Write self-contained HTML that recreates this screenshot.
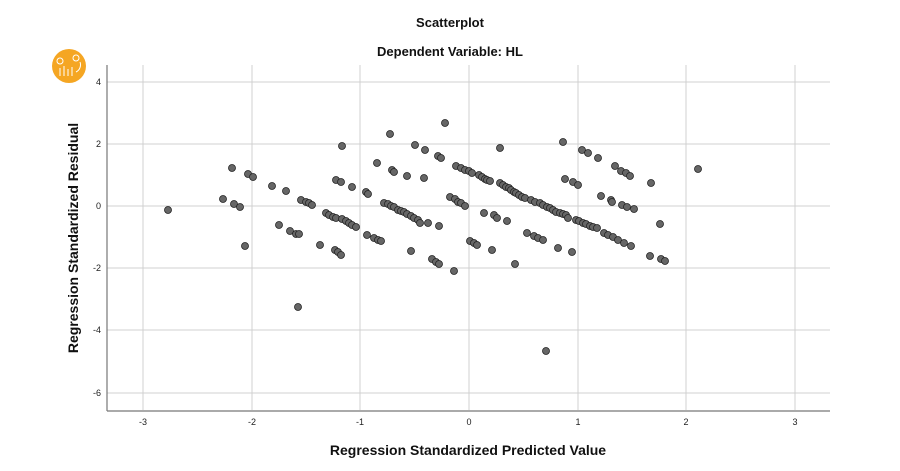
<!DOCTYPE html>
<html><head><style>body{margin:0;background:#fff}svg{display:block}</style></head><body>
<svg width="900" height="471" xmlns="http://www.w3.org/2000/svg" font-family="Liberation Sans, Arial, sans-serif">
<rect width="900" height="471" fill="#fff"/>
<text x="450" y="27" text-anchor="middle" font-size="13" font-weight="bold" fill="#111">Scatterplot</text>
<text x="450" y="56" text-anchor="middle" font-size="13" font-weight="bold" fill="#111">Dependent Variable: HL</text>
<circle cx="69" cy="66" r="17" fill="#f5a623"/>
<g stroke="#fff" stroke-width="1" fill="none"><path d="M60 76v-8M64 76v-10M68 76v-7M72 76v-9M76 72a8 8 0 0 0 4-10"/><circle cx="60" cy="61" r="3"/><circle cx="76" cy="58" r="3"/></g>
<g stroke="#d0d0d0" stroke-width="1">
<line x1="143" y1="65" x2="143" y2="410"/><line x1="252" y1="65" x2="252" y2="410"/><line x1="360" y1="65" x2="360" y2="410"/><line x1="469" y1="65" x2="469" y2="410"/><line x1="578" y1="65" x2="578" y2="410"/><line x1="686" y1="65" x2="686" y2="410"/><line x1="795" y1="65" x2="795" y2="410"/>
<line x1="107" y1="82" x2="830" y2="82"/><line x1="107" y1="144" x2="830" y2="144"/><line x1="107" y1="206" x2="830" y2="206"/><line x1="107" y1="268" x2="830" y2="268"/><line x1="107" y1="330" x2="830" y2="330"/><line x1="107" y1="393" x2="830" y2="393"/>
</g>
<g stroke="#777" stroke-width="1.2"><line x1="107" y1="65" x2="107" y2="411"/><line x1="107" y1="411" x2="830" y2="411"/></g>
<g font-size="9" fill="#222" text-anchor="end">
<text x="101" y="85">4</text><text x="101" y="147">2</text><text x="101" y="209">0</text><text x="101" y="271">-2</text><text x="101" y="333">-4</text><text x="101" y="396">-6</text></g>
<g font-size="9" fill="#222" text-anchor="middle">
<text x="143" y="425">-3</text><text x="252" y="425">-2</text><text x="360" y="425">-1</text><text x="469" y="425">0</text><text x="578" y="425">1</text><text x="686" y="425">2</text><text x="795" y="425">3</text></g>
<text x="468" y="455" text-anchor="middle" font-size="14" font-weight="bold" fill="#111">Regression Standardized Predicted Value</text>
<text transform="translate(78,238) rotate(-90)" text-anchor="middle" font-size="14" font-weight="bold" fill="#111">Regression Standardized Residual</text>
<g fill="#666" stroke="#222" stroke-width="0.8">
<circle cx="168" cy="210" r="3.5"/><circle cx="223" cy="199" r="3.5"/><circle cx="232" cy="168" r="3.5"/><circle cx="234" cy="204" r="3.5"/><circle cx="240" cy="207" r="3.5"/><circle cx="245" cy="246" r="3.5"/><circle cx="248" cy="174" r="3.5"/><circle cx="253" cy="177" r="3.5"/><circle cx="272" cy="186" r="3.5"/><circle cx="279" cy="225" r="3.5"/><circle cx="286" cy="191" r="3.5"/><circle cx="290" cy="231" r="3.5"/><circle cx="296" cy="234" r="3.5"/><circle cx="299" cy="234" r="3.5"/><circle cx="298" cy="307" r="3.5"/><circle cx="301" cy="200" r="3.5"/><circle cx="306" cy="202" r="3.5"/><circle cx="309" cy="203" r="3.5"/><circle cx="312" cy="205" r="3.5"/><circle cx="320" cy="245" r="3.5"/><circle cx="326" cy="213" r="3.5"/><circle cx="329" cy="215" r="3.5"/><circle cx="333" cy="217" r="3.5"/><circle cx="336" cy="218" r="3.5"/><circle cx="335" cy="250" r="3.5"/><circle cx="338" cy="252" r="3.5"/><circle cx="341" cy="255" r="3.5"/><circle cx="336" cy="180" r="3.5"/><circle cx="341" cy="182" r="3.5"/><circle cx="342" cy="146" r="3.5"/><circle cx="342" cy="219" r="3.5"/><circle cx="346" cy="221" r="3.5"/><circle cx="349" cy="223" r="3.5"/><circle cx="352" cy="225" r="3.5"/><circle cx="356" cy="227" r="3.5"/><circle cx="352" cy="187" r="3.5"/><circle cx="366" cy="192" r="3.5"/><circle cx="368" cy="194" r="3.5"/><circle cx="367" cy="235" r="3.5"/><circle cx="374" cy="238" r="3.5"/><circle cx="378" cy="240" r="3.5"/><circle cx="381" cy="241" r="3.5"/><circle cx="377" cy="163" r="3.5"/><circle cx="384" cy="203" r="3.5"/><circle cx="388" cy="204" r="3.5"/><circle cx="391" cy="206" r="3.5"/><circle cx="394" cy="207" r="3.5"/><circle cx="390" cy="134" r="3.5"/><circle cx="392" cy="170" r="3.5"/><circle cx="394" cy="172" r="3.5"/><circle cx="398" cy="210" r="3.5"/><circle cx="401" cy="211" r="3.5"/><circle cx="404" cy="212" r="3.5"/><circle cx="407" cy="214" r="3.5"/><circle cx="407" cy="176" r="3.5"/><circle cx="411" cy="251" r="3.5"/><circle cx="411" cy="216" r="3.5"/><circle cx="414" cy="218" r="3.5"/><circle cx="418" cy="220" r="3.5"/><circle cx="420" cy="223" r="3.5"/><circle cx="415" cy="145" r="3.5"/><circle cx="425" cy="150" r="3.5"/><circle cx="424" cy="178" r="3.5"/><circle cx="428" cy="223" r="3.5"/><circle cx="432" cy="259" r="3.5"/><circle cx="436" cy="262" r="3.5"/><circle cx="439" cy="264" r="3.5"/><circle cx="439" cy="226" r="3.5"/><circle cx="438" cy="156" r="3.5"/><circle cx="441" cy="158" r="3.5"/><circle cx="445" cy="123" r="3.5"/><circle cx="454" cy="271" r="3.5"/><circle cx="450" cy="197" r="3.5"/><circle cx="455" cy="199" r="3.5"/><circle cx="458" cy="202" r="3.5"/><circle cx="461" cy="203" r="3.5"/><circle cx="465" cy="206" r="3.5"/><circle cx="456" cy="166" r="3.5"/><circle cx="461" cy="168" r="3.5"/><circle cx="465" cy="170" r="3.5"/><circle cx="469" cy="171" r="3.5"/><circle cx="472" cy="173" r="3.5"/><circle cx="470" cy="241" r="3.5"/><circle cx="474" cy="243" r="3.5"/><circle cx="477" cy="245" r="3.5"/><circle cx="479" cy="175" r="3.5"/><circle cx="482" cy="177" r="3.5"/><circle cx="485" cy="179" r="3.5"/><circle cx="487" cy="180" r="3.5"/><circle cx="490" cy="181" r="3.5"/><circle cx="484" cy="213" r="3.5"/><circle cx="492" cy="250" r="3.5"/><circle cx="494" cy="215" r="3.5"/><circle cx="497" cy="218" r="3.5"/><circle cx="500" cy="183" r="3.5"/><circle cx="500" cy="148" r="3.5"/><circle cx="503" cy="185" r="3.5"/><circle cx="506" cy="187" r="3.5"/><circle cx="509" cy="188" r="3.5"/><circle cx="511" cy="190" r="3.5"/><circle cx="507" cy="221" r="3.5"/><circle cx="514" cy="192" r="3.5"/><circle cx="516" cy="193" r="3.5"/><circle cx="515" cy="264" r="3.5"/><circle cx="519" cy="195" r="3.5"/><circle cx="522" cy="197" r="3.5"/><circle cx="525" cy="198" r="3.5"/><circle cx="527" cy="233" r="3.5"/><circle cx="531" cy="200" r="3.5"/><circle cx="534" cy="236" r="3.5"/><circle cx="535" cy="202" r="3.5"/><circle cx="538" cy="238" r="3.5"/><circle cx="540" cy="203" r="3.5"/><circle cx="543" cy="205" r="3.5"/><circle cx="543" cy="240" r="3.5"/><circle cx="547" cy="207" r="3.5"/><circle cx="546" cy="351" r="3.5"/><circle cx="550" cy="208" r="3.5"/><circle cx="553" cy="210" r="3.5"/><circle cx="556" cy="212" r="3.5"/><circle cx="558" cy="248" r="3.5"/><circle cx="560" cy="213" r="3.5"/><circle cx="563" cy="142" r="3.5"/><circle cx="563" cy="214" r="3.5"/><circle cx="565" cy="179" r="3.5"/><circle cx="566" cy="215" r="3.5"/><circle cx="568" cy="218" r="3.5"/><circle cx="572" cy="252" r="3.5"/><circle cx="573" cy="182" r="3.5"/><circle cx="576" cy="220" r="3.5"/><circle cx="578" cy="185" r="3.5"/><circle cx="579" cy="221" r="3.5"/><circle cx="583" cy="223" r="3.5"/><circle cx="582" cy="150" r="3.5"/><circle cx="586" cy="224" r="3.5"/><circle cx="588" cy="153" r="3.5"/><circle cx="590" cy="226" r="3.5"/><circle cx="593" cy="227" r="3.5"/><circle cx="597" cy="228" r="3.5"/><circle cx="598" cy="158" r="3.5"/><circle cx="601" cy="196" r="3.5"/><circle cx="604" cy="233" r="3.5"/><circle cx="608" cy="235" r="3.5"/><circle cx="611" cy="200" r="3.5"/><circle cx="612" cy="202" r="3.5"/><circle cx="613" cy="237" r="3.5"/><circle cx="615" cy="166" r="3.5"/><circle cx="618" cy="240" r="3.5"/><circle cx="621" cy="171" r="3.5"/><circle cx="622" cy="205" r="3.5"/><circle cx="624" cy="243" r="3.5"/><circle cx="626" cy="173" r="3.5"/><circle cx="630" cy="176" r="3.5"/><circle cx="631" cy="246" r="3.5"/><circle cx="627" cy="207" r="3.5"/><circle cx="634" cy="209" r="3.5"/><circle cx="650" cy="256" r="3.5"/><circle cx="651" cy="183" r="3.5"/><circle cx="661" cy="259" r="3.5"/><circle cx="665" cy="261" r="3.5"/><circle cx="660" cy="224" r="3.5"/><circle cx="698" cy="169" r="3.5"/>
</g>
</svg>
</body></html>
